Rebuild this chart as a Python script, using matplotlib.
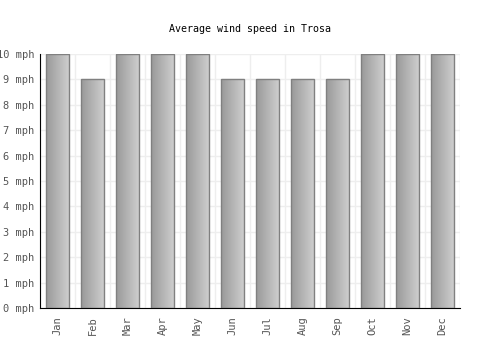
import matplotlib
matplotlib.use("Agg")
import matplotlib.pyplot as plt
import numpy as np

months = ["Jan", "Feb", "Mar", "Apr", "May", "Jun", "Jul", "Aug", "Sep", "Oct", "Nov", "Dec"]
wind = [10, 9, 10, 10, 10, 9, 9, 9, 9, 10, 10, 10]

plt.rcParams["font.family"] = ["DejaVu Sans Mono"]

fig = plt.figure(figsize=(5, 3.5), dpi=100)
ax = fig.add_axes([0.08, 0.12, 0.84, 0.726])

x = np.arange(len(months))
bars = ax.bar(x, wind, width=0.66, facecolor="none", edgecolor="#808080", linewidth=1, zorder=3)

# horizontal gradient inside each bar
grad = np.linspace(0, 1, 256).reshape(1, -1)
cmap = matplotlib.colors.LinearSegmentedColormap.from_list("g", ["#999999", "#d0d0d0"])
for b in bars:
    x0, y0, w, h = b.get_x(), b.get_y(), b.get_width(), b.get_height()
    im = ax.imshow(grad, extent=[x0, x0 + w, y0, y0 + h], aspect="auto", cmap=cmap, zorder=2)
    im.set_clip_path(b)

ax.set_xlim(-0.5, len(months) - 0.5)
ax.set_ylim(0, 10)
ax.set_yticks(range(0, 11))
ax.set_yticklabels([f"{v} mph" for v in range(0, 11)])
ax.set_xticks(x)
ax.set_xticklabels(months, rotation=90)
ax.set_xticks(np.arange(-0.5, len(months), 1), minor=True)
ax.grid(True, which="minor", axis="x", color="#eeeeee", linewidth=1, zorder=0)
ax.grid(True, which="major", axis="y", color="#eeeeee", linewidth=1, zorder=0)
ax.tick_params(which="both", length=0, labelsize=7.5, colors="#555555", pad=6)
ax.tick_params(axis="y", pad=4)
for s in ["top", "right"]:
    ax.spines[s].set_visible(False)
for s in ["left", "bottom"]:
    ax.spines[s].set_color("black")
ax.set_title("Average wind speed in Trosa", fontsize=7.2, pad=16)

fig.savefig("out.png", dpi=100)
